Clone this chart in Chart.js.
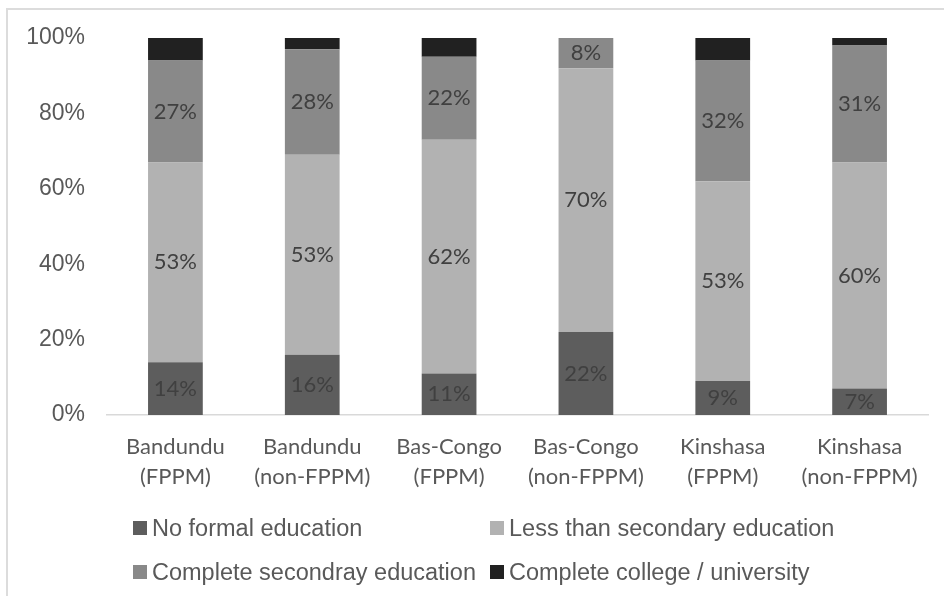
<!DOCTYPE html>
<html>
<head>
<meta charset="utf-8">
<script src="https://cdn.jsdelivr.net/npm/chart.js@4.4.0/dist/chart.umd.min.js"></script>
<style>
  html, body { margin: 0; padding: 0; background: #fff; }
  #wrap { position: relative; width: 944px; height: 596px; overflow: hidden; }
  #frame {
    position: absolute; left: 6px; top: 8px; right: -10px; bottom: -10px;
    border-top: 2px solid #dcdcdc; border-left: 2px solid #dcdcdc;
  }
  #chart { position: absolute; left: 0; top: 0; }
  #legend {
    position: absolute; left: 133px; top: 506px;
    display: grid; grid-template-columns: 357px auto;
    font: 23.5px "Liberation Sans", Arial, sans-serif; color: #595959;
  }
  #legend .item { display: flex; align-items: center; height: 44px; white-space: nowrap; }
  #legend .box { width: 14px; height: 14px; margin-right: 5px; flex: none; }
</style>
</head>
<body>
<div id="wrap">
  <div id="frame"></div>
  <canvas id="chart" width="944" height="596"></canvas>
  <div id="legend"></div>
</div>
<script>
// region / programme groups, two label lines each
const categories = [
  ['Bandundu', '(FPPM)'],
  ['Bandundu', '(non-FPPM)'],
  ['Bas-Congo', '(FPPM)'],
  ['Bas-Congo', '(non-FPPM)'],
  ['Kinshasa', '(FPPM)'],
  ['Kinshasa', '(non-FPPM)']
];

// share of respondents by education level (%)
const noFormal = [14, 16, 11, 22, 9, 7];
const lessThanSecondary = [53, 53, 62, 70, 53, 60];
const completeSecondary = [27, 28, 22, 8, 32, 31];
const collegeUniversity = [6, 3, 5, 0, 6, 2];

const seriesNames = [
  'No formal education',
  'Less than secondary education',
  'Complete secondray education',
  'Complete college / university'
];
const seriesColors = ['#5d5d5d', '#b2b2b2', '#898989', '#212121'];
const yTicks = [0, 20, 40, 60, 80, 100];

// print the percentage in the middle of each labelled segment
const segmentLabels = {
  id: 'segmentLabels',
  afterDatasetsDraw(chart) {
    const ctx = chart.ctx;
    ctx.save();
    ctx.font = '22px Lato';
    ctx.fillStyle = '#404040';
    ctx.textAlign = 'center';
    ctx.textBaseline = 'middle';
    chart.data.datasets.forEach((ds, i) => {
      if (!ds.showLabels) return;
      chart.getDatasetMeta(i).data.forEach((bar, j) => {
        const v = ds.data[j];
        if (!v) return;
        const { x, y, base } = bar.getProps(['x', 'y', 'base'], true);
        ctx.fillText(v + '%', x, (y + base) / 2);
      });
    });
    ctx.restore();
  }
};

const seriesData = [noFormal, lessThanSecondary, completeSecondary, collegeUniversity];

const chart = new Chart(document.getElementById('chart'), {
  type: 'bar',
  data: {
    labels: categories,
    datasets: seriesData.map((d, i) => ({
      label: seriesNames[i],
      data: d,
      backgroundColor: seriesColors[i],
      borderWidth: 0,
      barPercentage: 0.4,
      categoryPercentage: 1,
      showLabels: i < 3
    }))
  },
  options: {
    responsive: false,
    animation: false,
    layout: { padding: { top: 38, right: 16, bottom: 81, left: 0 } },
    plugins: {
      legend: { display: false },
      tooltip: { enabled: false }
    },
    scales: {
      x: {
        stacked: true,
        grid: { display: false, drawTicks: false },
        border: { display: true, color: '#d9d9d9', width: 1.5 },
        ticks: {
          color: '#595959',
          font: { family: 'Lato', size: 22, lineHeight: 30 / 22 },
          padding: 17,
          maxRotation: 0,
          autoSkip: false
        },
        afterFit: s => { s.height = 100; }
      },
      y: {
        stacked: true,
        min: 0,
        max: 100,
        grid: { display: false, drawTicks: false },
        border: { display: false },
        ticks: {
          color: '#595959',
          font: { family: 'Liberation Sans', size: 23 },
          padding: 22,
          callback: v => v + '%'
        },
        afterBuildTicks: s => { s.ticks = yTicks.map(v => ({ value: v })); },
        afterFit: s => { s.width = 107; }
      }
    }
  },
  plugins: [segmentLabels]
});

// legend laid out in two columns under the axis
const legend = document.getElementById('legend');
chart.data.datasets.forEach(ds => {
  const item = document.createElement('div');
  item.className = 'item';
  const box = document.createElement('span');
  box.className = 'box';
  box.style.background = ds.backgroundColor;
  item.appendChild(box);
  item.appendChild(document.createTextNode(ds.label));
  legend.appendChild(item);
});
</script>
</body>
</html>
